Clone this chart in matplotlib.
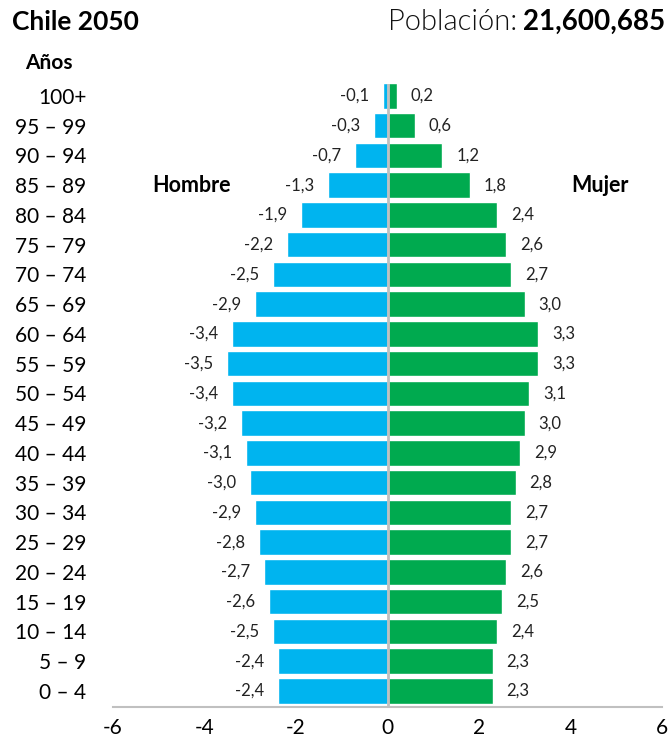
import matplotlib.pyplot as plt
import numpy as np

plt.rcParams['font.family'] = ['Lato', 'DejaVu Sans']

# age groups from youngest to oldest
ages = ['0 – 4', '5 – 9', '10 – 14', '15 – 19', '20 – 24', '25 – 29', '30 – 34',
        '35 – 39', '40 – 44', '45 – 49', '50 – 54', '55 – 59', '60 – 64', '65 – 69',
        '70 – 74', '75 – 79', '80 – 84', '85 – 89', '90 – 94', '95 – 99', '100+']
hombre = [-2.4, -2.4, -2.5, -2.6, -2.7, -2.8, -2.9, -3.0, -3.1, -3.2, -3.4,
          -3.5, -3.4, -2.9, -2.5, -2.2, -1.9, -1.3, -0.7, -0.3, -0.1]
mujer = [2.3, 2.3, 2.4, 2.5, 2.6, 2.7, 2.7, 2.8, 2.9, 3.0, 3.1,
         3.3, 3.3, 3.0, 2.7, 2.6, 2.4, 1.8, 1.2, 0.6, 0.2]
xticks = [-6, -4, -2, 0, 2, 4, 6]

blue = '#00b4ef'
green = '#00aa4f'
grey = '#c0c0c0'

fig = plt.figure(figsize=(6.69, 7.41), dpi=100)
ax = fig.add_axes([113 / 669, 1 - 707 / 741, 549 / 669, (707 - 84) / 741])

y = np.arange(len(ages))
ax.barh(y, hombre, height=0.86, color=blue, edgecolor='white', linewidth=1)
ax.barh(y, mujer, height=0.86, color=green, edgecolor='white', linewidth=1)
ax.axvline(0, color=grey, linewidth=2, zorder=3)

def fmt(v):
    return ('%.1f' % v).replace('.', ',')

for i in range(len(ages)):
    ax.annotate(fmt(hombre[i]), (hombre[i], y[i]), xytext=(-10, 0), textcoords='offset points',
                ha='right', va='center', fontsize=12, color='#222222')
    ax.annotate(fmt(mujer[i]), (mujer[i], y[i]), xytext=(10, 0), textcoords='offset points',
                ha='left', va='center', fontsize=12, color='#222222')

ax.text(-4.28, 17, 'Hombre', ha='center', va='center', fontsize=15.5, fontweight='bold')
ax.text(4.64, 17, 'Mujer', ha='center', va='center', fontsize=15.5, fontweight='bold')

ax.set_xlim(-6, 6)
ax.set_ylim(-0.54, 20.4)
ax.set_xticks(xticks)
ax.set_xticklabels([str(t) for t in xticks])
ax.set_yticks(y)
ax.set_yticklabels(ages)
ax.tick_params(axis='y', length=0, pad=19, labelsize=15)
ax.tick_params(axis='x', length=0, pad=8, labelsize=15)

for s in ['top', 'left', 'right']:
    ax.spines[s].set_visible(False)
ax.spines['bottom'].set_color(grey)
ax.spines['bottom'].set_linewidth(1.5)

fig.text(12 / 669, 1 - 22 / 741, 'Chile 2050', ha='left', va='center', fontsize=19, fontweight='bold')
fig.text(25 / 669, 1 - 63 / 741, 'Años', ha='left', va='center', fontsize=15, fontweight='bold')

num = fig.text(665 / 669, 1 - 22 / 741, '21,600,685', ha='right', va='center', fontsize=20, fontweight='bold')
fig.canvas.draw()
bb = num.get_window_extent()
fig.text(bb.x0 / fig.bbox.width - 0.008, 1 - 22 / 741, 'Población:', ha='right', va='center',
         fontsize=21, fontweight=300, color='#111111')

fig.savefig('out.png', dpi=100)
